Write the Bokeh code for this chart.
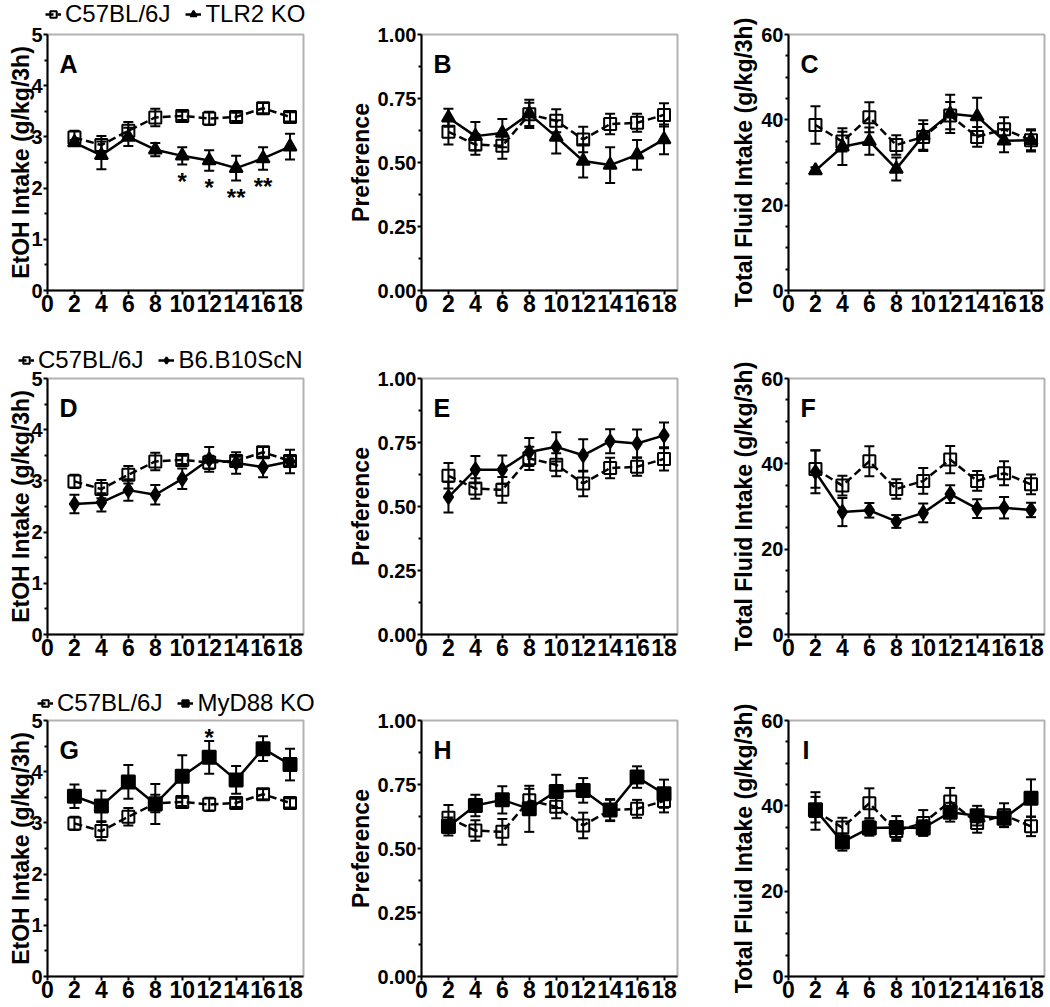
import math
from bokeh.plotting import figure
from bokeh.layouts import row, column
from bokeh.models import (ColumnDataSource, Whisker, TeeHead, FixedTicker, Range1d,
                          Label, Legend, LegendItem, NumeralTickFormatter, BoxAnnotation)
from bokeh.core.properties import value
from bokeh.embed import file_html
from bokeh.resources import INLINE

# ---------------- data ----------------
weeks = [2, 4, 6, 8, 10, 12, 14, 16, 18]
x_ticks = [0, 2, 4, 6, 8, 10, 12, 14, 16, 18]
x_max = 19

ctrl_name = "C57BL/6J"
ctrl_etoh = [2.99, 2.84, 3.12, 3.38, 3.41, 3.36, 3.39, 3.56, 3.39]
ctrl_etoh_err = [0.13, 0.18, 0.17, 0.17, 0.08, 0.13, 0.08, 0.10, 0.09]
ctrl_pref = [0.620, 0.570, 0.565, 0.688, 0.663, 0.590, 0.650, 0.655, 0.686]
ctrl_pref_err = [0.050, 0.040, 0.050, 0.045, 0.045, 0.050, 0.040, 0.035, 0.045]
ctrl_fluid = [38.8, 34.9, 40.6, 34.1, 36.0, 41.0, 36.0, 37.8, 35.2]
ctrl_fluid_err = [4.4, 2.3, 3.5, 2.3, 3.0, 3.2, 2.3, 2.8, 2.3]

tlr2_name = "TLR2 KO"
tlr2_etoh = [2.89, 2.64, 3.00, 2.75, 2.63, 2.54, 2.39, 2.58, 2.81]
tlr2_etoh_err = [0.05, 0.27, 0.18, 0.13, 0.17, 0.20, 0.24, 0.22, 0.25]
tlr2_pref = [0.675, 0.603, 0.615, 0.690, 0.600, 0.506, 0.490, 0.530, 0.590]
tlr2_pref_err = [0.035, 0.055, 0.055, 0.055, 0.065, 0.065, 0.070, 0.058, 0.058]
tlr2_fluid = [28.1, 33.7, 35.0, 28.5, 36.3, 41.4, 40.8, 35.1, 35.2]
tlr2_fluid_err = [0.8, 4.3, 3.2, 2.7, 3.6, 4.5, 4.4, 2.7, 2.6]

b10_name = "B6.B10ScN"
b10_etoh = [2.55, 2.58, 2.82, 2.73, 3.04, 3.42, 3.35, 3.27, 3.38]
b10_etoh_err = [0.18, 0.18, 0.21, 0.19, 0.20, 0.24, 0.21, 0.20, 0.23]
b10_pref = [0.537, 0.644, 0.644, 0.713, 0.733, 0.700, 0.755, 0.746, 0.778]
b10_pref_err = [0.060, 0.053, 0.055, 0.055, 0.057, 0.063, 0.047, 0.055, 0.050]
b10_fluid = [38.1, 28.7, 29.1, 26.5, 28.5, 32.9, 29.5, 29.7, 29.2]
b10_fluid_err = [5.0, 3.3, 1.7, 1.5, 2.2, 2.1, 2.2, 2.5, 1.7]

myd_name = "MyD88 KO"
myd_etoh = [3.52, 3.33, 3.80, 3.37, 3.91, 4.28, 3.84, 4.45, 4.14]
myd_etoh_err = [0.23, 0.30, 0.33, 0.39, 0.41, 0.32, 0.27, 0.24, 0.31]
myd_pref = [0.586, 0.668, 0.690, 0.655, 0.723, 0.727, 0.650, 0.779, 0.714]
myd_pref_err = [0.035, 0.042, 0.053, 0.090, 0.065, 0.048, 0.043, 0.042, 0.055]
myd_fluid = [39.1, 31.5, 34.8, 34.9, 34.8, 38.5, 37.7, 37.1, 41.8]
myd_fluid_err = [3.0, 2.0, 1.8, 2.7, 1.8, 2.2, 2.3, 2.0, 4.4]

# significance marks
sig_a_x = [10, 12, 14, 16]
sig_a_y = [2.12, 2.02, 1.81, 2.04]
sig_a_text = ["*", "*", "**", "**"]
sig_g_x = [12]
sig_g_y = [4.67]
sig_g_text = ["*"]

etoh_label = "EtOH Intake (g/kg/3h)"
pref_label = "Preference"
fluid_label = "Total Fluid Intake (g/kg/3h)"
etoh_max, etoh_ticks, etoh_minor = 5, [0, 1, 2, 3, 4, 5], [0.5, 1.5, 2.5, 3.5, 4.5]
pref_max, pref_ticks, pref_minor = 1.0, [0.0, 0.25, 0.5, 0.75, 1.0], [0.125, 0.375, 0.625, 0.875]
fluid_max, fluid_ticks, fluid_minor = 60, [0, 20, 40, 60], [5, 10, 15, 25, 30, 35, 45, 50, 55]

# ---------------- layout (page pixels) ----------------
FONT = "Liberation Sans"
COL_FIG = [(0, 340), (340, 718), (718, 1048)]
COL_BOX = [47, 421, 788]
ROW_FIG = [(0, 335), (335, 678), (678, 1006)]
ROW_BOX = [34, 378, 720]
BOX_W, BOX_H = 256, 256
YLAB_MID = [20, 360, 743]           # page x of rotated label centre line
LEG_LEFT = [45, 18, 37]             # page x of legend start
LEG_MID = [14, 360, 703]            # page y of legend centre
LEG_H = 27


def panel(col, rowi, letter, ylabel, y_max, ticks, minor, fmt,
          ctrl, ctrl_err, ko, ko_err, ko_marker, ko_size,
          legend=None, sig=None):
    fl, fr = COL_FIG[col]
    ft, fb = ROW_FIG[rowi]
    bx, by = COL_BOX[col], ROW_BOX[rowi]
    W, H = fr - fl, fb - ft
    kx = BOX_W / x_max
    ky = BOX_H / y_max
    xr = Range1d(-(bx - fl) / kx, x_max + (fr - bx - BOX_W) / kx)
    yr = Range1d(-(fb - by - BOX_H) / ky, y_max + (by - ft) / ky)
    p = figure(width=W, height=H, x_range=xr, y_range=yr, output_backend="svg",
               toolbar_location=None, min_border=0, title=None)
    p.grid.visible = False
    p.outline_line_color = None
    p.background_fill_alpha = 0

    p.add_layout(BoxAnnotation(left=0, right=x_max, bottom=0, top=y_max,
                               fill_alpha=0, line_color="black", line_width=2))

    xa = p.xaxis[0]
    xa.fixed_location = 0
    xa.bounds = (0, x_max)
    xa.ticker = FixedTicker(ticks=x_ticks, minor_ticks=[])
    xa.axis_line_width = 2
    xa.major_tick_line_width = 2
    xa.major_tick_out = 4
    xa.major_tick_in = 0
    xa.minor_tick_out = 0
    xa.major_label_standoff = 0
    xa.major_label_text_font = FONT
    xa.major_label_text_font_style = "bold"
    xa.major_label_text_font_size = "23px"
    xa.major_label_text_color = "black"

    ya = p.yaxis[0]
    ya.fixed_location = 0
    ya.bounds = (0, y_max)
    ya.ticker = FixedTicker(ticks=ticks, minor_ticks=minor)
    if fmt:
        ya.formatter = NumeralTickFormatter(format=fmt)
    ya.axis_line_width = 2
    ya.major_tick_line_width = 2
    ya.minor_tick_line_width = 2
    ya.major_tick_out = 4
    ya.major_tick_in = 0
    ya.minor_tick_out = 3
    ya.minor_tick_in = 0
    ya.major_label_standoff = 1
    ya.major_label_text_font = FONT
    ya.major_label_text_font_style = "bold"
    ya.major_label_text_font_size = "20px"
    ya.major_label_text_color = "black"

    def series(vals, errs, marker, size, fill, dash):
        src = ColumnDataSource(dict(x=weeks, y=vals,
                                    lo=[v - e for v, e in zip(vals, errs)],
                                    hi=[v + e for v, e in zip(vals, errs)]))
        w = Whisker(base="x", lower="lo", upper="hi", source=src,
                    line_color="black", line_width=2,
                    upper_head=TeeHead(size=10, line_width=2, line_color="black"),
                    lower_head=TeeHead(size=10, line_width=2, line_color="black"))
        p.add_layout(w)
        ln = p.line("x", "y", source=src, line_color="black", line_width=2.5,
                    line_dash=dash)
        sc = p.scatter("x", "y", source=src, marker=marker, size=size,
                       fill_color=fill, line_color="black", line_width=2)
        return ln, sc

    cl, cs = series(ctrl, ctrl_err, "square", 12, None, "8 4")
    kl, ks = series(ko, ko_err, ko_marker, ko_size, "black", "solid")

    if legend is not None:
        lg = Legend(items=[LegendItem(label=ctrl_name, renderers=[cl, cs]),
                           LegendItem(label=legend, renderers=[kl, ks])],
                    location=(LEG_LEFT[rowi] - fl, fb - (LEG_MID[rowi] + LEG_H / 2)),
                    orientation="horizontal",
                    border_line_alpha=0, background_fill_alpha=0,
                    padding=0, margin=0, spacing=15, label_standoff=4,
                    glyph_width=16, glyph_height=16,
                    label_text_font=FONT, label_text_font_size="24px",
                    label_text_color="black")
        p.add_layout(lg)

    if sig is not None:
        sx, sy, st = sig
        p.text(x=sx, y=sy, text=st, text_font=value(FONT), text_font_style="bold",
               text_font_size="24px", text_align="center", text_baseline="middle",
               text_color="black")

    p.add_layout(Label(x=bx - fl + (14 if letter == "I" else 12), y=fb - by - 15,
                       x_units="screen", y_units="screen",
                       text=letter, text_font=FONT, text_font_style="bold",
                       text_font_size="25px", text_baseline="top", text_align="left",
                       text_color="black"))
    p.add_layout(Label(x=YLAB_MID[col] - fl, y=y_max / 2, x_units="screen",
                       y_units="data", text=ylabel, angle=math.pi / 2,
                       text_font=FONT, text_font_style="bold", text_font_size="23px",
                       text_align="center", text_baseline="middle",
                       text_color="black"))
    return p


rows_spec = [
    (tlr2_etoh, tlr2_etoh_err, tlr2_pref, tlr2_pref_err, tlr2_fluid, tlr2_fluid_err,
     "triangle", 13, tlr2_name, "ABC", (sig_a_x, sig_a_y, sig_a_text)),
    (b10_etoh, b10_etoh_err, b10_pref, b10_pref_err, b10_fluid, b10_fluid_err,
     "diamond", 14, b10_name, "DEF", None),
    (myd_etoh, myd_etoh_err, myd_pref, myd_pref_err, myd_fluid, myd_fluid_err,
     "square", 13, myd_name, "GHI", (sig_g_x, sig_g_y, sig_g_text)),
]

rows = []
for ri, (e, ee, pr, pre, fl_, fle, mk, ms, nm, letters, sig) in enumerate(rows_spec):
    pa = panel(0, ri, letters[0], etoh_label, etoh_max, etoh_ticks, etoh_minor, None,
               ctrl_etoh, ctrl_etoh_err, e, ee, mk, ms, legend=nm, sig=sig)
    pb = panel(1, ri, letters[1], pref_label, pref_max, pref_ticks, pref_minor, "0.00",
               ctrl_pref, ctrl_pref_err, pr, pre, mk, ms)
    pc = panel(2, ri, letters[2], fluid_label, fluid_max, fluid_ticks, fluid_minor, None,
               ctrl_fluid, ctrl_fluid_err, fl_, fle, mk, ms)
    rows.append(row(pa, pb, pc, spacing=0))

layout = column(*rows, spacing=0)
open("out.html", "w").write(file_html(layout, INLINE))
